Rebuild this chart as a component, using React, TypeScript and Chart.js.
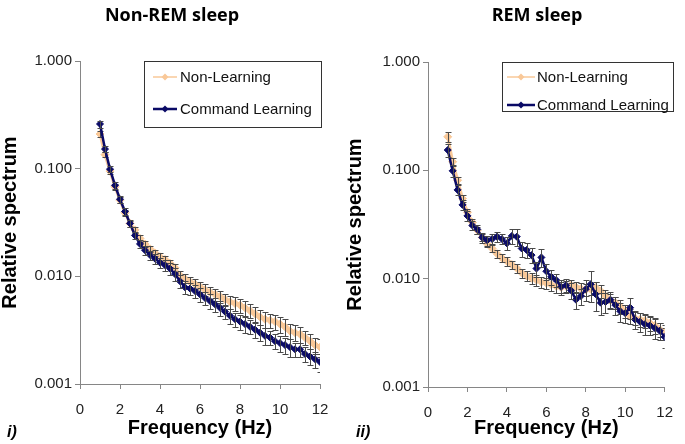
import React, { useEffect, useRef } from 'react';
import { Chart, registerables } from 'chart.js';

Chart.register(...registerables);

// x values (Hz)
const freqHz = [
  1, 1.25, 1.5, 1.75, 2, 2.25, 2.5, 2.75, 3, 3.25, 3.5, 3.75, 4, 4.25, 4.5, 4.75,
  5, 5.25, 5.5, 5.75, 6, 6.25, 6.5, 6.75, 7, 7.25, 7.5, 7.75, 8, 8.25, 8.5, 8.75,
  9, 9.25, 9.5, 9.75, 10, 10.25, 10.5, 10.75, 11, 11.25, 11.5, 11.75, 12,
];
const yTickValues = [0.001, 0.01, 0.1, 1];
const seriesNames = ['Non-Learning', 'Command Learning'];

// Non-REM sleep
const nremNonLearning = [
  0.21, 0.135, 0.095, 0.068, 0.051, 0.039, 0.031, 0.027, 0.0225, 0.02, 0.018, 0.0165, 0.0152, 0.0143, 0.0132, 0.012,
  0.0102, 0.0095, 0.0089, 0.0085, 0.008, 0.0075, 0.0071, 0.0068, 0.0065, 0.0061, 0.0058, 0.0056, 0.0054, 0.0051, 0.0048, 0.0045,
  0.0042, 0.004, 0.0039, 0.0038, 0.0036, 0.0034, 0.0031, 0.003, 0.0029, 0.0027, 0.0025, 0.0023, 0.0022,
];
const nremNonLearningErr = [
  0.012, 0.008, 0.005, 0.004, 0.003, 0.0025, 0.002, 0.0018, 0.0015, 0.0014, 0.0013, 0.0012, 0.0012, 0.0011, 0.0011, 0.001,
  0.001, 0.0009, 0.0009, 0.0009, 0.0009, 0.0009, 0.0009, 0.0009, 0.0008, 0.0008, 0.0008, 0.0008, 0.0008, 0.0008, 0.0007, 0.0007,
  0.0007, 0.0007, 0.0006, 0.0006, 0.0006, 0.0006, 0.0005, 0.0005, 0.0005, 0.0004, 0.0004, 0.0004, 0.0004,
];
const nremCommand = [
  0.26, 0.152, 0.099, 0.07, 0.052, 0.04, 0.031, 0.024, 0.02, 0.0175, 0.0158, 0.0146, 0.0134, 0.0127, 0.0118, 0.0105,
  0.009, 0.0079, 0.0077, 0.0073, 0.0068, 0.0063, 0.0059, 0.0055, 0.0051, 0.0047, 0.0043, 0.004, 0.0038, 0.0036, 0.0034, 0.0032,
  0.003, 0.0028, 0.0027, 0.0025, 0.0024, 0.0023, 0.0022, 0.0021, 0.0021, 0.0019, 0.0018, 0.0017, 0.0016,
];
const nremCommandErr = [
  0.02, 0.01, 0.006, 0.005, 0.004, 0.003, 0.0025, 0.002, 0.0017, 0.0016, 0.0015, 0.0015, 0.0015, 0.0015, 0.0015, 0.0014,
  0.0012, 0.0011, 0.001, 0.001, 0.001, 0.0009, 0.0009, 0.0008, 0.0008, 0.0007, 0.0007, 0.0006, 0.0006, 0.0006, 0.0005, 0.0005,
  0.0005, 0.0005, 0.0004, 0.0004, 0.0004, 0.0004, 0.0004, 0.0003, 0.0003, 0.0003, 0.0003, 0.0003, 0.0003,
];

// REM sleep
const remNonLearning = [
  0.204, 0.12, 0.081, 0.055, 0.041, 0.033, 0.028, 0.024, 0.021, 0.019, 0.017, 0.0155, 0.0145, 0.0135, 0.0125, 0.0113,
  0.0106, 0.0101, 0.0097, 0.0093, 0.0091, 0.0088, 0.0085, 0.0083, 0.0085, 0.0087, 0.0084, 0.0081, 0.0079, 0.008, 0.0083, 0.0077,
  0.0069, 0.0063, 0.006, 0.0055, 0.005, 0.0045, 0.0043, 0.0042, 0.0041, 0.0039, 0.0037, 0.0034, 0.0032,
];
const remNonLearningErr = [
  0.02, 0.01, 0.006, 0.004, 0.003, 0.0025, 0.002, 0.0018, 0.0016, 0.0015, 0.0014, 0.0013, 0.0013, 0.0012, 0.0012, 0.0011,
  0.0011, 0.0011, 0.0011, 0.0011, 0.0011, 0.0011, 0.0011, 0.001, 0.001, 0.001, 0.001, 0.001, 0.001, 0.001, 0.001, 0.001,
  0.0009, 0.0009, 0.0008, 0.0008, 0.0007, 0.0007, 0.0006, 0.0006, 0.0006, 0.0006, 0.0006, 0.0005, 0.0005,
];
const remCommand = [
  0.154, 0.099, 0.066, 0.048, 0.038, 0.031, 0.0285, 0.024, 0.0226, 0.0232, 0.0244, 0.0232, 0.0212, 0.0248, 0.0244, 0.019,
  0.0184, 0.0165, 0.0124, 0.0157, 0.0117, 0.0104, 0.0097, 0.0084, 0.0087, 0.0078, 0.0064, 0.0069, 0.008, 0.0089, 0.0072, 0.006,
  0.0061, 0.0064, 0.0057, 0.005, 0.0048, 0.0054, 0.0042, 0.004, 0.0038, 0.0037, 0.0035, 0.0033, 0.0029,
];
const remCommandErr = [
  0.02, 0.012, 0.007, 0.005, 0.004, 0.003, 0.0028, 0.0026, 0.0024, 0.0024, 0.0026, 0.0025, 0.0028, 0.004, 0.0042, 0.003,
  0.0028, 0.0025, 0.002, 0.003, 0.002, 0.0016, 0.0014, 0.0013, 0.0013, 0.0013, 0.0011, 0.0012, 0.0018, 0.0028, 0.0022, 0.0014,
  0.0013, 0.0012, 0.0011, 0.001, 0.0009, 0.0012, 0.0008, 0.0008, 0.0008, 0.0007, 0.0007, 0.0006, 0.0006,
];

const FONT = '"Liberation Sans", Arial, sans-serif';
const AXIS = '#868686';
const PEACH = '#F9C898';
const NAVY = '#0A0A66';

// draws each series' error bars right after the series itself, like Excel
const errorBarPlugin = {
  id: 'errorBars',
  afterDatasetDraw(chart: any, args: any, opts: any) {
    const errs = opts.errors?.[args.index];
    if (!errs) return;
    const { ctx, chartArea } = chart;
    const yScale = chart.scales.y;
    const values = chart.data.datasets[args.index].data;
    ctx.save();
    ctx.beginPath();
    ctx.rect(chartArea.left, chartArea.top, chartArea.right - chartArea.left, chartArea.bottom - chartArea.top);
    ctx.clip();
    ctx.strokeStyle = '#4a4a4a';
    ctx.lineWidth = 1;
    args.meta.data.forEach((pt: any, i: number) => {
      const v = values[i].y;
      const e = errs[i];
      const x = Math.round(pt.x) + 0.5;
      const top = Math.round(yScale.getPixelForValue(v + e)) + 0.5;
      const bot = Math.round(yScale.getPixelForValue(Math.max(v - e, 0.0001))) + 0.5;
      ctx.beginPath();
      ctx.moveTo(x, top);
      ctx.lineTo(x, bot);
      ctx.moveTo(x - 3, top);
      ctx.lineTo(x + 3, top);
      ctx.moveTo(x - 3, bot);
      ctx.lineTo(x + 3, bot);
      ctx.stroke();
    });
    ctx.restore();
  },
};

// boxed legend placed inside the plot, top right
const boxLegendPlugin = {
  id: 'boxLegend',
  afterDraw(chart: any, _args: any, opts: any) {
    const { ctx } = chart;
    const { box, rows, line, textX } = opts;
    ctx.save();
    ctx.fillStyle = '#fff';
    ctx.fillRect(box.x, box.y, box.w, box.h);
    ctx.strokeStyle = '#333';
    ctx.lineWidth = 1;
    ctx.strokeRect(box.x + 0.5, box.y + 0.5, box.w, box.h);
    chart.data.datasets.forEach((ds: any, i: number) => {
      const y = rows[i];
      ctx.strokeStyle = ds.borderColor;
      ctx.lineWidth = ds.legendWidth;
      ctx.beginPath();
      ctx.moveTo(line[0], y);
      ctx.lineTo(line[1], y);
      ctx.stroke();
      const cx = (line[0] + line[1]) / 2;
      ctx.fillStyle = ds.borderColor;
      ctx.beginPath();
      ctx.moveTo(cx, y - 3.5);
      ctx.lineTo(cx + 3.5, y);
      ctx.lineTo(cx, y + 3.5);
      ctx.lineTo(cx - 3.5, y);
      ctx.closePath();
      ctx.fill();
      ctx.fillStyle = '#111';
      ctx.font = `15px ${FONT}`;
      ctx.textBaseline = 'middle';
      ctx.fillText(ds.label, textX, y + 1);
    });
    ctx.restore();
  },
};

interface PanelProps {
  left: number;
  width: number;
  nonLearning: number[];
  nonLearningErr: number[];
  command: number[];
  commandErr: number[];
  padTop: number;
  padRight: number;
  yAxisW: number;
  xAxisH: number;
  yTitlePad: number;
  legend: any;
}

const Panel: React.FC<PanelProps> = (p) => {
  const canvasRef = useRef<HTMLCanvasElement | null>(null);

  useEffect(() => {
    if (!canvasRef.current) return;
    const line = (label: string, vals: number[], color: string, bw: number, r: number, lw: number, order: number) => ({
      label,
      data: freqHz.map((f, i) => ({ x: f, y: vals[i] })),
      borderColor: color,
      backgroundColor: color,
      borderWidth: bw,
      legendWidth: lw,
      pointStyle: 'rectRot',
      pointRadius: r,
      pointBorderWidth: 1,
      tension: 0,
      order,
    });
    const chart = new Chart(canvasRef.current, {
      type: 'line',
      data: {
        datasets: [
          line(seriesNames[0], p.nonLearning, PEACH, 3, 4, 1.5, 1),
          line(seriesNames[1], p.command, NAVY, 2.5, 3.5, 2.5, 0),
        ],
      },
      plugins: [errorBarPlugin, boxLegendPlugin],
      options: {
        responsive: false,
        animation: false,
        layout: { padding: { top: p.padTop, right: p.padRight, left: 0, bottom: 0 } },
        plugins: {
          legend: { display: false },
          tooltip: { enabled: false },
          errorBars: { errors: [p.nonLearningErr, p.commandErr] },
          boxLegend: p.legend,
        } as any,
        scales: {
          x: {
            type: 'linear',
            min: 0,
            max: 12,
            ticks: { stepSize: 2, color: '#222', font: { family: FONT, size: 15 }, padding: 12, maxRotation: 0 },
            grid: { drawOnChartArea: false, drawTicks: true, tickLength: 5, color: AXIS },
            border: { color: AXIS, width: 1 },
            title: {
              display: true,
              text: 'Frequency (Hz)',
              color: '#000',
              font: { family: FONT, size: 20, weight: 'bold', lineHeight: 1 },
              padding: { top: 0, bottom: 6 },
            },
            afterFit: (s: any) => { s.height = p.xAxisH; },
          },
          y: {
            type: 'logarithmic',
            min: 0.001,
            max: 1,
            afterBuildTicks: (s: any) => { s.ticks = yTickValues.map((v) => ({ value: v })); },
            ticks: {
              autoSkip: false,
              color: '#222',
              font: { family: FONT, size: 15 },
              padding: 3,
              callback: (v: any) => Number(v).toFixed(3),
            },
            grid: { drawOnChartArea: false, drawTicks: true, tickLength: 5, color: AXIS },
            border: { color: AXIS, width: 1 },
            title: {
              display: true,
              text: 'Relative spectrum',
              color: '#000',
              font: { family: FONT, size: 20, weight: 'bold', lineHeight: 1 },
              padding: { top: p.yTitlePad, bottom: 0 },
            },
            afterFit: (s: any) => { s.width = p.yAxisW; },
          },
        },
      } as any,
    });
    return () => chart.destroy();
  }, []);

  return (
    <canvas
      ref={canvasRef}
      width={p.width}
      height={444}
      style={{ position: 'absolute', left: p.left, top: 0, width: p.width, height: 444 }}
    />
  );
};

const titleStyle: React.CSSProperties = {
  position: 'absolute',
  top: 2,
  height: 24,
  lineHeight: '24px',
  fontFamily: '"Open Sans", sans-serif',
  fontWeight: 700,
  fontSize: 18,
  color: '#000',
  textAlign: 'center',
  whiteSpace: 'nowrap',
};

const tagStyle: React.CSSProperties = {
  position: 'absolute',
  top: 422,
  lineHeight: '20px',
  fontFamily: FONT,
  fontWeight: 700,
  fontStyle: 'italic',
  fontSize: 16,
  color: '#000',
};

export default function App() {
  return (
    <div style={{ position: 'absolute', left: 0, top: 0, width: 685, height: 444, background: '#fff', overflow: 'hidden' }}>
      <Panel
        left={0}
        width={342}
        nonLearning={nremNonLearning}
        nonLearningErr={nremNonLearningErr}
        command={nremCommand}
        commandErr={nremCommandErr}
        padTop={61}
        padRight={22}
        yAxisW={80}
        xAxisH={60}
        yTitlePad={0}
        legend={{ box: { x: 144, y: 61, w: 177, h: 66 }, rows: [77, 109], line: [153, 177], textX: 180 }}
      />
      <Panel
        left={342}
        width={343}
        nonLearning={remNonLearning}
        nonLearningErr={remNonLearningErr}
        command={remCommand}
        commandErr={remCommandErr}
        padTop={62}
        padRight={10}
        yAxisW={86}
        xAxisH={57}
        yTitlePad={3}
        legend={{ box: { x: 160, y: 62, w: 171, h: 49 }, rows: [77, 105], line: [165, 193], textX: 195 }}
      />
      <div style={{ ...titleStyle, left: 72, width: 200 }}>Non-REM sleep</div>
      <div style={{ ...titleStyle, left: 437, width: 200 }}>REM sleep</div>
      <div style={{ ...tagStyle, left: 7 }}>i)</div>
      <div style={{ ...tagStyle, left: 356 }}>ii)</div>
    </div>
  );
}
